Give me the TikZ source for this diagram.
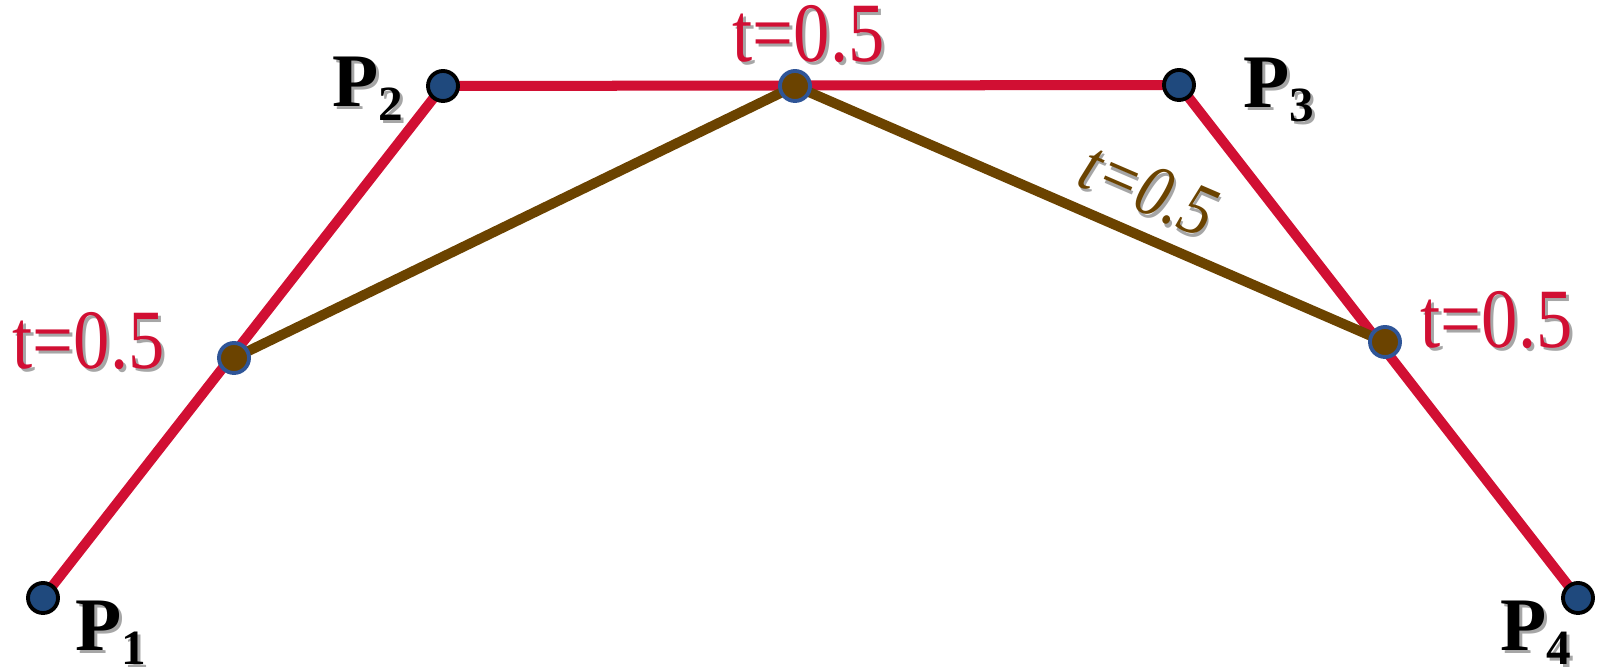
\documentclass[tikz,border=0pt]{standalone}
\usepackage{fontspec}
\setmainfont{Liberation Serif}
\usepackage{tikz}
\usetikzlibrary{backgrounds}

\definecolor{crimson}{HTML}{D10F33}
\definecolor{ptblue}{HTML}{1F497D}
\definecolor{midbrown}{HTML}{6B4300}
\definecolor{ringblue}{HTML}{2F5597}

% text with a soft drop shadow, and the subscript of a point name
\newcommand{\withshadow}[1]{\leavevmode\rlap{\hspace{0.03cm}\raisebox{-0.03cm}{\color{black!35}#1}}#1}
\newcommand{\ptsub}[1]{\raisebox{-0.14cm}{\fontsize{14pt}{14pt}\selectfont #1}}
\newcommand{\tnarrow}[1]{\scalebox{0.86}[1]{#1}}

\begin{document}
\begin{tikzpicture}[
  x=0.01cm, y=-0.01cm,
  every node/.style={inner sep=0pt},
  ctrl/.style={circle, draw=black, fill=ptblue, line width=1.1pt, minimum size=0.3cm},
  half/.style={circle, draw=ringblue, fill=midbrown, line width=1.1pt, minimum size=0.3cm},
  poly/.style={crimson, line width=0.1cm, line join=round},
  chord/.style={midbrown, line width=0.1cm, line join=round},
  pname/.style={anchor=base west, font=\fontsize{21.5pt}{21.5pt}\selectfont\bfseries},
  tval/.style={anchor=base west, text=crimson, font=\fontsize{24pt}{24pt}\selectfont},
]
\useasboundingbox (0,0) rectangle (1602,671);

% Control points
\node[ctrl] (p1) at (43,598) {};
\node[ctrl] (p2) at (443,86) {};
\node[ctrl] (p3) at (1179,85) {};
\node[ctrl] (p4) at (1578,598) {};

% Points at t=0.5
\node[half] (m12) at (234,358) {};
\node[half] (m23) at (795,86) {};
\node[half] (m34) at (1385,342) {};

% Control polygon and first chords
\begin{scope}[on background layer]
\draw[poly] (p1.center) -- (p2.center) -- (p3.center) -- (p4.center);
\draw[chord] (m12.center) -- (m23.center) -- (m34.center);
\end{scope}

% Point names
\node[pname] (n1) at (75,651) {\withshadow{P\ptsub{1}}};
\node[pname] (n2) at (332,107) {\withshadow{P\ptsub{2}}};
\node[pname] (n3) at (1243,108) {\withshadow{P\ptsub{3}}};
\node[pname] (n4) at (1500,651) {\withshadow{P\ptsub{4}}};

% Parameter labels
\node[tval] (t12) at (12,369) {\withshadow{\tnarrow{t=0.5}}};
\node[tval] (t23) at (732,62) {\withshadow{\tnarrow{t=0.5}}};
\node[tval] (t34) at (1420,348) {\withshadow{\tnarrow{t=0.5}}};
\node[tval, anchor=center, text=midbrown, font=\fontsize{21pt}{21pt}\selectfont\itshape,
  rotate=-23.3] (tc) at (1148,191) {\withshadow{\tnarrow{t=0.5}}};

\end{tikzpicture}
\end{document}
